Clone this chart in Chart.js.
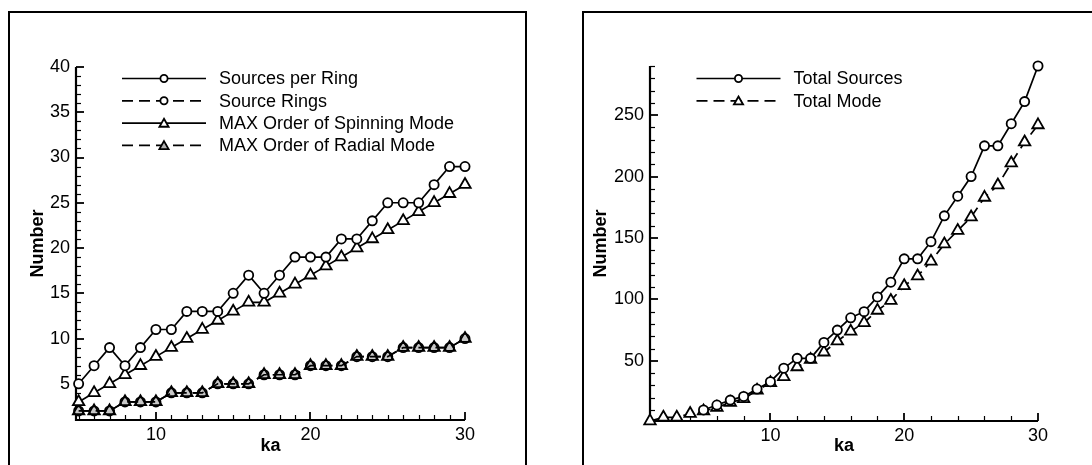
<!DOCTYPE html>
<html><head><meta charset="utf-8">
<script src="https://cdn.jsdelivr.net/npm/chart.js@4"></script>
<style>
html,body{margin:0;padding:0;background:#fff;}
#page{position:relative;width:1092px;height:465px;overflow:hidden;background:#fff;}
.frame{position:absolute;border:2px solid #000;box-sizing:border-box;}
canvas{position:absolute;top:0;}
</style></head><body>
<div id="page">
<div class="frame" style="left:8px;top:11px;width:519px;height:480px;"></div>
<div class="frame" style="left:582px;top:11px;width:560px;height:480px;"></div>
<canvas id="c1" width="546" height="465" style="left:0"></canvas>
<canvas id="c2" width="546" height="465" style="left:546px"></canvas>
</div>
<script>
// ---------- data ----------
const ka = [5,6,7,8,9,10,11,12,13,14,15,16,17,18,19,20,21,22,23,24,25,26,27,28,29,30];
const sourcesPerRing = [5,7,9,7,9,11,11,13,13,13,15,17,15,17,19,19,19,21,21,23,25,25,25,27,29,29];
const sourceRings    = [2,2,2,3,3,3,4,4,4,5,5,5,6,6,6,7,7,7,8,8,8,9,9,9,9,10];
const spinningMode   = [3,4,5,6,7,8,9,10,11,12,13,14,14,15,16,17,18,19,20,21,22,23,24,25,26,27];
const radialMode     = [2,2,2,3,3,3,4,4,4,5,5,5,6,6,6,7,7,7,8,8,8,9,9,9,9,10];

const kaTotalSources = [5,6,7,8,9,10,11,12,13,14,15,16,17,18,19,20,21,22,23,24,25,26,27,28,29,30];
const totalSources   = [10,14,18,21,27,33,44,52,52,65,75,85,90,102,114,133,133,147,168,184,200,225,225,243,261,290];
const kaTotalMode    = [1,2,3,4,5,6,7,8,9,10,11,12,13,14,15,16,17,18,19,20,21,22,23,24,25,26,27,28,29,30];
const totalMode      = [1,4,4,7,9,12,16,19,26,32,37,45,51,57,66,74,81,91,99,111,119,131,145,156,167,183,193,211,228,242];

const leftXTicks  = [10,20,30];
const leftYTicks  = [5,10,15,20,25,30,35,40];
const rightXTicks = [10,20,30];
const rightYTicks = [50,100,150,200,250];

const FONT = "'Liberation Sans', Arial, Helvetica, sans-serif";
const pts = (xs, ys) => xs.map((x, i) => ({x, y: ys[i]}));

// ---------- plugins ----------
const tpAxes = {
  id: 'tpAxes',
  beforeDatasetsDraw(chart, args, o) {
    const {ctx, chartArea: a, scales: {x, y}} = chart;
    ctx.save();
    ctx.strokeStyle = '#000';
    const seg = (x1, y1, x2, y2) => { ctx.beginPath(); ctx.moveTo(x1, y1); ctx.lineTo(x2, y2); ctx.stroke(); };
    ctx.lineWidth = 1.2;
    for (let v = o.xMinorFrom; v <= x.max + 1e-6; v += o.xMinorStep) {
      if (o.xMajor.includes(v)) continue;
      const p = Math.round(x.getPixelForValue(v)) + 0.5;
      seg(p, a.bottom, p, a.bottom - o.minorLen);
    }
    for (let v = o.yMinorFrom; v <= y.max + 1e-6; v += o.yMinorStep) {
      if (o.yMajor.includes(v)) continue;
      const p = Math.round(y.getPixelForValue(v)) + 0.5;
      seg(a.left, p, a.left + o.minorLen, p);
    }
    ctx.lineWidth = 1.8;
    o.xMajor.forEach(v => { const p = Math.round(x.getPixelForValue(v)); seg(p, a.bottom, p, a.bottom - o.majorLen); });
    o.yMajor.forEach(v => { const p = Math.round(y.getPixelForValue(v)); seg(a.left, p, a.left + o.majorLen, p); });
    ctx.lineWidth = 2.2;
    ctx.beginPath();
    ctx.moveTo(a.left, a.top);
    ctx.lineTo(a.left, a.bottom);
    ctx.lineTo(a.right, a.bottom);
    ctx.stroke();
    ctx.restore();
  }
};

const tpLegend = {
  id: 'tpLegend',
  afterDatasetsDraw(chart, args, o) {
    const ctx = chart.ctx;
    ctx.save();
    chart.data.datasets.forEach((ds, i) => {
      const yy = o.y + i * o.rowH;
      const x1 = o.x, x2 = o.x + o.lineLen, xm = (x1 + x2) / 2;
      ctx.strokeStyle = '#000';
      ctx.lineWidth = ds.borderWidth;
      ctx.setLineDash(ds.borderDash || []);
      ctx.beginPath();
      ctx.moveTo(x1, yy); ctx.lineTo(x2, yy);
      ctx.stroke();
      ctx.setLineDash([]);
      ctx.fillStyle = ds.legendFill;
      ctx.strokeStyle = '#000';
      ctx.lineWidth = ds.pointBorderWidth;
      Chart.helpers.drawPoint(ctx, {
        pointStyle: ds.pointStyle,
        radius: ds.pointStyle === 'triangle' ? o.triR : o.circR,
        rotation: 0,
        borderWidth: ds.pointBorderWidth
      }, xm, ds.pointStyle === 'triangle' ? yy + 1 : yy);
      ctx.fillStyle = '#000';
      ctx.font = '18px ' + FONT;
      ctx.textAlign = 'left';
      ctx.textBaseline = 'middle';
      ctx.fillText(ds.label, x2 + o.textGap, yy + 1);
    });
    ctx.restore();
  }
};

function lineDS(label, data, style, dashed, fill, radius, legendFill) {
  return {
    label, data,
    borderColor: '#000', borderWidth: 1.7,
    borderDash: dashed ? [11, 6] : [],
    pointStyle: style, pointRadius: radius, pointHoverRadius: radius,
    pointBorderColor: '#000', pointBorderWidth: 1.8,
    pointBackgroundColor: fill,
    legendFill: legendFill,
    tension: 0, fill: false, clip: false
  };
}

function makeChart(id, datasets, cfg) {
  return new Chart(document.getElementById(id), {
    type: 'line',
    data: { datasets },
    options: {
      responsive: false, animation: false, devicePixelRatio: 1,
      events: [],
      layout: { padding: { left: 0, right: cfg.padRight, top: cfg.top, bottom: 0 } },
      plugins: {
        legend: { display: false },
        tooltip: { enabled: false },
        tpAxes: {
          xMajor: cfg.xTicks, yMajor: cfg.yTicks,
          xMinorFrom: cfg.xMinorFrom, xMinorStep: cfg.xMinorStep,
          yMinorFrom: cfg.yMinorFrom, yMinorStep: cfg.yMinorStep,
          majorLen: 8, minorLen: 5
        },
        tpLegend: Object.assign({ lineLen: 84, rowH: 22.3, textGap: 13, circR: 3.6, triR: 5.3 }, cfg.legend)
      },
      scales: {
        x: {
          type: 'linear', min: cfg.xMin, max: cfg.xMax,
          grid: { display: false, drawTicks: false },
          border: { display: false },
          afterBuildTicks: s => { s.ticks = cfg.xTicks.map(v => ({ value: v })); },
          afterFit: s => { s.height = 465 - cfg.bottom; },
          ticks: { autoSkip: false, maxRotation: 0, padding: 4, color: '#000', font: { family: FONT, size: 18 } },
          title: { display: true, text: 'ka', color: '#000', font: { family: FONT, size: 18, weight: 'bold' }, padding: { top: 0, bottom: 8 } }
        },
        y: {
          type: 'linear', min: cfg.yMin, max: cfg.yMax,
          grid: { display: false, drawTicks: false },
          border: { display: false },
          afterBuildTicks: s => { s.ticks = cfg.yTicks.map(v => ({ value: v })); },
          afterFit: s => { s.width = cfg.left; },
          ticks: { autoSkip: false, padding: 6, color: '#000', font: { family: FONT, size: 18 } },
          title: { display: true, text: 'Number', color: '#000', font: { family: FONT, size: 18, weight: 'bold' }, padding: { top: cfg.yTitlePad, bottom: 0 } }
        }
      }
    },
    plugins: [tpAxes, tpLegend]
  });
}

makeChart('c1', [
  lineDS('Sources per Ring', pts(ka, sourcesPerRing), 'circle', false, '#fff', 4.6, '#fff'),
  lineDS('Source Rings', pts(ka, sourceRings), 'circle', true, 'rgba(0,0,0,0)', 4.6, '#fff'),
  lineDS('MAX Order of Spinning Mode', pts(ka, spinningMode), 'triangle', false, '#fff', 6.6, '#fff'),
  lineDS('MAX Order of Radial Mode', pts(ka, radialMode), 'triangle', true, '#c8c8c8', 6.6, '#b0b0b0')
], {
  left: 76, top: 67, bottom: 420, padRight: 546 - 465,
  xMin: 4.83, xMax: 30, yMin: 1, yMax: 40,
  xTicks: leftXTicks, yTicks: leftYTicks,
  xMinorFrom: 5, xMinorStep: 1, yMinorFrom: 2, yMinorStep: 1,
  yTitlePad: 27.5,
  legend: { x: 122, y: 78.5 }
});

makeChart('c2', [
  lineDS('Total Sources', pts(kaTotalSources, totalSources), 'circle', false, '#fff', 4.6, '#fff'),
  lineDS('Total Mode', pts(kaTotalMode, totalMode), 'triangle', true, '#fff', 6.6, '#fff')
], {
  left: 650 - 546, top: 66, bottom: 421, padRight: 546 - (1038 - 546),
  xMin: 1, xMax: 30, yMin: 1, yMax: 290,
  xTicks: rightXTicks, yTicks: rightYTicks,
  xMinorFrom: 2, xMinorStep: 2, yMinorFrom: 10, yMinorStep: 10,
  yTitlePad: 44.5,
  legend: { x: 696.5 - 546, y: 78.5 }
});
</script>
</body></html>
